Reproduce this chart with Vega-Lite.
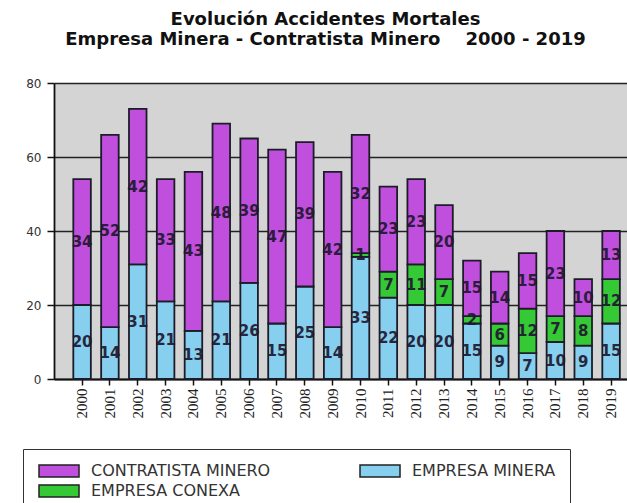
{
  "$schema": "https://vega.github.io/schema/vega-lite/v6.json",
  "width": 573,
  "height": 296,
  "autosize": "none",
  "padding": {"left": 54, "top": 83, "right": 0, "bottom": 124},
  "background": "white",
  "title": {
    "text": ["Evolución Accidentes Mortales", "Empresa Minera - Contratista Minero\u00a0\u00a0\u00a0 2000 - 2019"],
    "font": "DejaVu Sans",
    "fontWeight": "bold",
    "fontSize": 18,
    "lineHeight": 20,
    "color": "#111111",
    "anchor": "middle",
    "frame": "group",
    "dx": -15,
    "offset": 28
  },
  "config": {"view": {"fill": "#d4d4d4", "stroke": null}},
  "data": {
    "values": [
      {"year": "2000", "series": "EMPRESA MINERA", "n": 20},
      {"year": "2000", "series": "CONTRATISTA MINERO", "n": 34},
      {"year": "2001", "series": "EMPRESA MINERA", "n": 14},
      {"year": "2001", "series": "CONTRATISTA MINERO", "n": 52},
      {"year": "2002", "series": "EMPRESA MINERA", "n": 31},
      {"year": "2002", "series": "CONTRATISTA MINERO", "n": 42},
      {"year": "2003", "series": "EMPRESA MINERA", "n": 21},
      {"year": "2003", "series": "CONTRATISTA MINERO", "n": 33},
      {"year": "2004", "series": "EMPRESA MINERA", "n": 13},
      {"year": "2004", "series": "CONTRATISTA MINERO", "n": 43},
      {"year": "2005", "series": "EMPRESA MINERA", "n": 21},
      {"year": "2005", "series": "CONTRATISTA MINERO", "n": 48},
      {"year": "2006", "series": "EMPRESA MINERA", "n": 26},
      {"year": "2006", "series": "CONTRATISTA MINERO", "n": 39},
      {"year": "2007", "series": "EMPRESA MINERA", "n": 15},
      {"year": "2007", "series": "CONTRATISTA MINERO", "n": 47},
      {"year": "2008", "series": "EMPRESA MINERA", "n": 25},
      {"year": "2008", "series": "CONTRATISTA MINERO", "n": 39},
      {"year": "2009", "series": "EMPRESA MINERA", "n": 14},
      {"year": "2009", "series": "CONTRATISTA MINERO", "n": 42},
      {"year": "2010", "series": "EMPRESA MINERA", "n": 33},
      {"year": "2010", "series": "EMPRESA CONEXA", "n": 1},
      {"year": "2010", "series": "CONTRATISTA MINERO", "n": 32},
      {"year": "2011", "series": "EMPRESA MINERA", "n": 22},
      {"year": "2011", "series": "EMPRESA CONEXA", "n": 7},
      {"year": "2011", "series": "CONTRATISTA MINERO", "n": 23},
      {"year": "2012", "series": "EMPRESA MINERA", "n": 20},
      {"year": "2012", "series": "EMPRESA CONEXA", "n": 11},
      {"year": "2012", "series": "CONTRATISTA MINERO", "n": 23},
      {"year": "2013", "series": "EMPRESA MINERA", "n": 20},
      {"year": "2013", "series": "EMPRESA CONEXA", "n": 7},
      {"year": "2013", "series": "CONTRATISTA MINERO", "n": 20},
      {"year": "2014", "series": "EMPRESA MINERA", "n": 15},
      {"year": "2014", "series": "EMPRESA CONEXA", "n": 2},
      {"year": "2014", "series": "CONTRATISTA MINERO", "n": 15},
      {"year": "2015", "series": "EMPRESA MINERA", "n": 9},
      {"year": "2015", "series": "EMPRESA CONEXA", "n": 6},
      {"year": "2015", "series": "CONTRATISTA MINERO", "n": 14},
      {"year": "2016", "series": "EMPRESA MINERA", "n": 7},
      {"year": "2016", "series": "EMPRESA CONEXA", "n": 12},
      {"year": "2016", "series": "CONTRATISTA MINERO", "n": 15},
      {"year": "2017", "series": "EMPRESA MINERA", "n": 10},
      {"year": "2017", "series": "EMPRESA CONEXA", "n": 7},
      {"year": "2017", "series": "CONTRATISTA MINERO", "n": 23},
      {"year": "2018", "series": "EMPRESA MINERA", "n": 9},
      {"year": "2018", "series": "EMPRESA CONEXA", "n": 8},
      {"year": "2018", "series": "CONTRATISTA MINERO", "n": 10},
      {"year": "2019", "series": "EMPRESA MINERA", "n": 15},
      {"year": "2019", "series": "EMPRESA CONEXA", "n": 12},
      {"year": "2019", "series": "CONTRATISTA MINERO", "n": 13}
    ]
  },
  "transform": [
    {"stack": "n", "groupby": ["year"], "sort": [{"field": "series", "order": "descending"}], "as": ["v0", "v1"]}
  ],
  "encoding": {
    "x": {
      "field": "year",
      "type": "ordinal",
      "scale": {"paddingInner": 0.37, "paddingOuter": 0.475, "align": 0.73},
      "axis": {
        "title": null,
        "labelAngle": -90,
        "labelFont": "Liberation Sans Narrow",
        "labelFontSize": 15,
        "labelColor": "#222222",
        "tickColor": "#111111",
        "tickSize": 6,
        "tickWidth": 1.5,
        "domainColor": "#111111",
        "domainWidth": 1.8,
        "labelPadding": 3,
        "grid": false
      }
    }
  },
  "layer": [
    {
      "mark": {"type": "bar", "stroke": "#1c1c28", "strokeWidth": 1.8},
      "encoding": {
        "y": {
          "field": "v0",
          "type": "quantitative",
          "scale": {"domain": [0, 80], "nice": false},
          "axis": {
            "title": null,
            "values": [0, 20, 40, 60, 80],
            "labelFont": "DejaVu Sans",
            "labelFontSize": 12,
            "labelColor": "#333333",
            "tickColor": "#111111",
            "tickSize": 7,
            "tickWidth": 1.5,
            "domainColor": "#111111",
            "domainWidth": 1.8,
            "gridColor": "#222222",
            "gridWidth": 1.3,
            "gridOpacity": 1,
            "labelPadding": 6
          }
        },
        "y2": {"field": "v1"},
        "fill": {
          "field": "series",
          "type": "nominal",
          "scale": {
            "domain": ["CONTRATISTA MINERO", "EMPRESA MINERA", "EMPRESA CONEXA"],
            "range": ["#bf4fdc", "#87cfee", "#36c936"]
          },
          "legend": {
            "title": null,
            "orient": "none",
            "legendX": -31,
            "legendY": 366,
            "direction": "horizontal",
            "columns": 2,
            "symbolType": "M-1,-1H5.67V1H-1Z",
            "symbolSize": 144,
            "symbolStrokeColor": "#222222",
            "symbolStrokeWidth": 1.5,
            "symbolOpacity": 1,
            "labelFont": "DejaVu Sans",
            "labelFontSize": 16,
            "labelColor": "#333333",
            "labelOffset": 38,
            "labelLimit": 400,
            "columnPadding": 86,
            "rowPadding": 2,
            "padding": 14,
            "strokeColor": "#333333",
            "fillColor": "white"
          }
        }
      }
    },
    {
      "transform": [{"fold": ["v0", "v1"], "as": ["k", "pos"]}],
      "mark": {"type": "text", "font": "DejaVu Sans", "fontWeight": "bold", "fontSize": 15, "color": "#201830", "opacity": 0.92, "baseline": "middle", "align": "center"},
      "encoding": {
        "y": {"aggregate": "mean", "field": "pos", "type": "quantitative", "scale": {"domain": [0, 80], "nice": false}},
        "text": {"field": "n", "type": "quantitative"},
        "detail": {"field": "series", "type": "nominal"}
      }
    }
  ]
}
